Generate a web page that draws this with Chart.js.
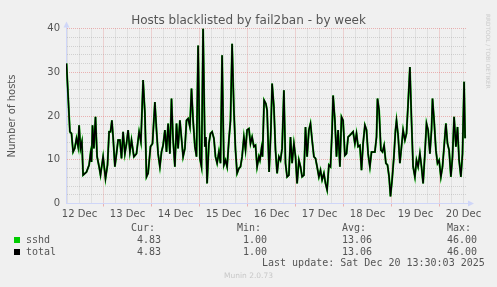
<!DOCTYPE html>
<html><head><meta charset="utf-8">
<script src="https://cdn.jsdelivr.net/npm/chart.js@4/dist/chart.umd.min.js"></script>
<style>
html,body{margin:0;padding:0;background:#f0f0f0;}
#wrap{position:relative;width:497px;height:287px;overflow:hidden;background:#f0f0f0;}
canvas{position:absolute;left:0;top:0;}
.t{position:absolute;font-family:'DejaVu Sans Mono',monospace;font-size:10px;line-height:12px;color:#555;white-space:pre;}
.sq{position:absolute;width:6px;height:6px;}
#munin{position:absolute;left:0;width:497px;top:271px;text-align:center;font-family:'DejaVu Sans',sans-serif;font-size:7.5px;line-height:10px;color:#c8c8c8;}
#rrd{position:absolute;left:484px;top:14px;writing-mode:vertical-rl;font-family:'DejaVu Sans',sans-serif;font-size:5.8px;line-height:8px;color:#cccccc;white-space:nowrap;}
</style></head><body>
<div id="wrap">
<canvas id="c" width="497" height="287"></canvas>
<div id="rrd">RRDTOOL / TOBI OETIKER</div>
<div class="t" style="left:131px;top:222px">Cur:</div>
<div class="t" style="left:237px;top:222px">Min:</div>
<div class="t" style="left:342px;top:222px">Avg:</div>
<div class="t" style="left:447px;top:222px">Max:</div>
<div class="sq" style="left:14px;top:237px;background:#00cc00"></div>
<div class="t" style="left:26px;top:234px">sshd</div>
<div class="t" style="left:137px;top:234px">4.83</div>
<div class="t" style="left:243px;top:234px">1.00</div>
<div class="t" style="left:342px;top:234px">13.06</div>
<div class="t" style="left:447px;top:234px">46.00</div>
<div class="sq" style="left:14px;top:249px;background:#000000"></div>
<div class="t" style="left:26px;top:246px">total</div>
<div class="t" style="left:137px;top:246px">4.83</div>
<div class="t" style="left:243px;top:246px">1.00</div>
<div class="t" style="left:342px;top:246px">13.06</div>
<div class="t" style="left:447px;top:246px">46.00</div>
<div class="t" style="left:262px;top:257px">Last update: Sat Dec 20 13:30:03 2025</div>
<div id="munin">Munin 2.0.73</div>
</div>
<script>
// time in hours since 12 Dec 00:00
const hours = [
5.5,7.2,8.0,8.8,9.6,10.5,11.3,11.8,12.5,13.2,
13.8,15.5,16.8,17.5,18.0,18.5,19.2,20.0,20.8,21.8,
22.5,23.8,25.0,26.0,26.8,27.5,28.2,28.8,29.7,30.5,
31.3,32.2,33.0,33.8,34.7,35.5,36.3,37.2,38.0,39.2,
40.5,41.8,42.7,43.8,44.7,45.5,46.3,47.5,48.5,49.7,
50.5,51.3,52.2,53.0,53.8,54.7,55.5,56.3,57.2,58.0,
58.8,59.7,60.5,61.3,62.2,63.0,63.8,64.7,65.5,66.3,
67.2,68.0,68.8,69.7,70.5,71.3,72.2,73.0,73.8,74.7,
75.2,75.8,76.7,77.5,78.3,79.2,80.0,80.8,81.7,82.5,
83.3,84.2,85.0,85.8,86.7,87.5,88.3,89.2,90.0,90.8,
91.7,92.5,93.3,94.2,95.0,95.8,96.7,97.5,98.3,99.2,
100.0,100.8,101.7,
102.2,103.0,103.5,104.3,105.2,105.8,106.8,107.7,108.3,109.2,
110.0,110.8,111.7,112.5,113.3,114.2,115.0,115.8,116.7,117.5,
118.3,119.2,120.0,120.8,121.7,122.5,123.3,124.2,125.0,125.8,
126.7,127.5,128.3,129.2,130.0,130.8,131.7,132.5,133.3,134.2,
135.0,135.8,136.7,137.5,138.3,138.8,139.7,140.5,141.3,142.2,
143.0,143.8,144.7,145.5,146.3,147.2,148.0,148.8,149.7,150.5,
151.3,152.2,153.0,153.8,154.7,155.5,156.3,157.2,158.0,158.8,
159.7,160.5,161.0,161.8,162.7,163.5,164.3,165.2,166.0,166.8,
167.5,168.3,169.2,170.0,170.5,171.3,172.2,173.0,173.8,174.7,
175.5,176.3,177.2,178.0,178.8,179.7,180.5,181.3,182.2,183.0,
183.8,184.7,185.5,186.3,187.2,188.0,188.5,189.3,190.2,191.0,
191.8,192.7,193.5,194.3,195.2,196.0,196.8,197.7,198.5,199.3,
200.2,201.0,201.8,202.7,203.5,204.3,204.8
];
const sshdValues = [
32.0,16.4,16.0,11.8,12.6,14.9,13.0,17.9,12.6,14.1,
6.5,7.2,8.8,11.4,9.5,17.9,12.6,19.8,10.7,8.4,
6.5,10.7,5.7,8.8,16.4,16.4,19.0,15.2,8.4,11.4,
14.5,14.5,10.3,16.4,11.4,13.7,16.8,11.8,14.5,10.7,
11.4,16.4,14.1,28.2,20.6,6.1,6.9,13.0,13.7,23.2,
16.8,11.4,8.4,11.8,13.3,16.8,11.8,18.3,11.4,24.0,
14.5,8.4,18.3,12.6,19.0,14.9,10.7,12.6,19.0,19.4,
17.5,26.3,19.0,13.0,10.7,36.1,10.3,8.4,40.0,13.0,
15.2,4.6,13.7,16.0,16.4,14.9,10.7,9.2,11.8,9.2,
33.9,8.8,9.9,8.4,14.5,19.0,36.5,21.3,12.2,6.9,
8.0,8.4,10.7,15.2,12.2,16.8,17.1,13.7,15.2,13.0,
13.3,8.4,10.7,
9.9,12.6,10.7,23.6,22.8,21.3,7.2,16.8,27.4,22.1,
12.2,6.9,10.7,9.9,12.6,25.9,9.2,6.1,6.5,15.2,
9.2,13.7,10.7,4.6,9.9,8.4,6.1,6.5,17.5,10.7,
16.8,18.3,14.5,10.7,10.3,8.4,6.1,7.6,5.4,6.9,
4.6,3.1,8.8,8.4,16.8,24.7,19.0,10.7,16.8,8.4,
19.8,19.0,11.0,11.4,15.2,15.6,16.0,16.4,13.7,16.0,
13.0,13.3,7.6,13.7,17.9,16.8,11.4,8.4,11.8,11.8,
11.8,15.2,24.0,21.3,12.2,11.8,13.3,9.2,8.8,6.1,
1.6,5.4,10.7,16.8,19.0,15.6,9.2,13.0,16.8,14.5,
16.0,22.8,31.2,19.0,8.4,6.1,9.9,8.4,11.4,8.4,
4.6,11.4,18.3,16.8,11.4,16.8,24.0,19.0,12.2,9.2,
9.9,6.1,8.4,13.0,18.3,13.7,12.2,6.1,10.7,19.8,
13.0,17.5,9.9,6.1,11.4,27.8,14.9
];
// only one jail, so the total equals sshd
const totalValues = sshdValues;

const dayLabels = ['12 Dec','13 Dec','14 Dec','15 Dec','16 Dec','17 Dec','18 Dec','19 Dec','20 Dec'];
const yTickLabels = ['0','10','20','30','40'];

const xMin = 5.25, xMax = 205.75;
const xTickValues = [];
for (let h = 6; h <= 204; h += 6) xTickValues.push(h);
const yTickValues = [];
for (let v = 0; v <= 40; v += 2) yTickValues.push(v);

const MINOR = 'rgba(150,150,150,0.35)';
const MAJOR = 'rgba(225,100,100,0.45)';
const AXIS = '#cfd6f8';
const FONT = '#555555';

const arrows = {
  id: 'arrows',
  afterDraw(chart) {
    const {ctx, chartArea: a} = chart;
    ctx.save();
    ctx.fillStyle = AXIS;
    ctx.strokeStyle = AXIS;
    const lx = Math.round(a.left) + 0.5;
    ctx.beginPath(); ctx.moveTo(lx, a.top); ctx.lineTo(lx, a.top - 4); ctx.stroke();
    ctx.beginPath(); ctx.moveTo(lx - 3, a.top - 1); ctx.lineTo(lx + 3, a.top - 1); ctx.lineTo(lx, a.top - 7); ctx.closePath(); ctx.fill();
    const by = Math.round(a.bottom - 0.5) + 0.5;
    ctx.beginPath(); ctx.moveTo(a.right, by); ctx.lineTo(a.right + 3, by); ctx.stroke();
    ctx.beginPath(); ctx.moveTo(a.right + 1, by - 3); ctx.lineTo(a.right + 1, by + 3); ctx.lineTo(a.right + 7, by); ctx.closePath(); ctx.fill();
    ctx.restore();
  }
};

new Chart(document.getElementById('c'), {
  type: 'line',
  data: {
    datasets: [
      { label: 'total', data: hours.map((h, i) => ({x: h, y: totalValues[i]})),
        borderColor: '#000000', borderWidth: 1.5, pointRadius: 0, tension: 0 },
      { label: 'sshd', data: hours.map((h, i) => ({x: h, y: sshdValues[i]})),
        borderColor: '#00cc00', borderWidth: 2, pointRadius: 0, tension: 0 }
    ]
  },
  options: {
    responsive: false,
    devicePixelRatio: 1,
    animation: false,
    events: [],
    layout: { padding: { left: 0, right: 0, top: 0, bottom: 63.5 } },
    plugins: {
      legend: { display: false },
      tooltip: { enabled: false },
      title: {
        display: true,
        text: 'Hosts blacklisted by fail2ban - by week',
        color: FONT,
        font: { family: 'DejaVu Sans', size: 12, weight: 'normal' },
        padding: { top: 14, bottom: 0.1 }
      }
    },
    scales: {
      x: {
        type: 'linear', min: xMin, max: xMax, offset: false,
        afterFit(s) { s.height = 20; },
        afterBuildTicks(s) { s.ticks = xTickValues.map(v => ({value: v})); },
        grid: {
          color: c => (c.tick && c.tick.value % 24 === 0) ? MAJOR : MINOR,
          lineWidth: 1,
          drawTicks: true, tickLength: 3,
          tickColor: c => (c.tick && c.tick.value % 24 === 0) ? MAJOR : 'rgba(0,0,0,0)'
        },
        border: { display: true, color: AXIS, width: 1, dash: [1, 1] },
        ticks: {
          autoSkip: false, maxRotation: 0, minRotation: 0, padding: 2,
          color: FONT, font: { family: 'DejaVu Sans', size: 10 },
          callback: v => (v % 24 === 12) ? dayLabels[(v - 12) / 24] : ''
        }
      },
      y: {
        type: 'linear', min: 0, max: 40,
        afterFit(s) { s.width = 66; },
        afterBuildTicks(s) { s.ticks = yTickValues.map(v => ({value: v})); },
        grid: {
          color: c => (c.tick && c.tick.value % 10 === 0) ? MAJOR : MINOR,
          lineWidth: 1, drawTicks: false
        },
        border: { display: true, color: AXIS, width: 1, dash: [1, 1] },
        title: {
          display: true, text: 'Number of hosts', color: FONT,
          font: { family: 'DejaVu Sans', size: 10 }, padding: { top: 6, bottom: 0 }
        },
        ticks: {
          autoSkip: false, padding: 6, color: FONT,
          font: { family: 'DejaVu Sans', size: 10 },
          callback: v => (v % 10 === 0) ? yTickLabels[v / 10] : ''
        }
      },
      yRight: {
        type: 'linear', position: 'right', display: true,
        afterFit(s) { s.width = 30; },
        grid: { display: false, drawTicks: false },
        border: { display: false },
        ticks: { display: false }
      }
    }
  },
  plugins: [arrows]
});
</script>
</body></html>
